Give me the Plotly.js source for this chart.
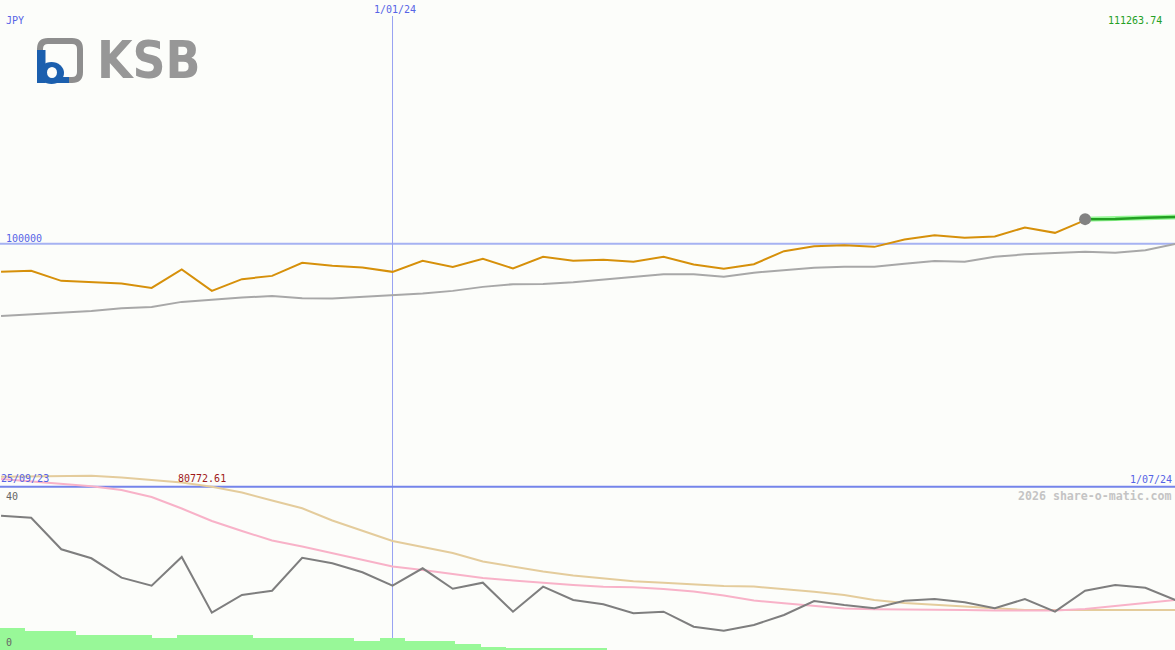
<!DOCTYPE html>
<html>
<head>
<meta charset="utf-8">
<script src="https://cdn.plot.ly/plotly-3.0.1.min.js"></script>
<style>html,body{margin:0;padding:0;background:#fcfdfa;}#chart{width:1175px;height:650px;}</style>
</head>
<body>
<div id="chart"></div>
<script>
// ---- data ----
const currency = 'JPY';
const dateLabels = ['25/09/23', '1/01/24', '1/07/24'];
const newYearWeek = 13;
const maxLabel = '111263.74';
const minLabel = '80772.61';
const refLevel = 100000;
const indicatorLabels = ['40', '0'];
const credit = '2026 share-o-matic.com';

// weekly closing price (JPY)
const price = [97771, 97850, 97059, 96980, 96853, 96506, 97960, 96268, 97193, 97454,
  98482, 98245, 98118, 97771, 98640, 98166, 98798, 98039, 98956, 98640,
  98735, 98561, 98956, 98356, 98008, 98379, 99407, 99802, 99881, 99747,
  100332, 100672, 100459, 100569, 101281, 100854, 101858, 101992];
// moving average of price
const priceMA = [94292, 94410, 94545, 94687, 94901, 95003, 95399, 95589, 95747, 95857,
  95691, 95660, 95794, 95905, 96063, 96268, 96585, 96798, 96814, 96956,
  97154, 97351, 97589, 97589, 97391, 97707, 97905, 98103, 98166, 98166,
  98403, 98632, 98561, 98972, 99154, 99273, 99352, 99273, 99486, 99984];
// latest price segment
const latestWeeks = [36, 37, 38, 39];
const latest = [101930, 101950, 102040, 102110];
const lastPoint = 101937;

// lower panel indicator
const indicator = [34.88, 34.36, 26.16, 23.82, 18.78, 16.70, 24.16, 9.69, 14.29, 15.40,
  23.97, 22.52, 20.18, 16.70, 21.22, 15.92, 17.48, 9.95, 16.44, 12.99,
  11.87, 9.53, 9.95, 6.05, 5.01, 6.49, 9.09, 12.73, 11.69, 10.83,
  12.81, 13.25, 12.39, 10.83, 13.25, 9.95, 15.40, 16.88, 16.18, 12.99];
const indicatorFast = [44.42, 43.77, 43.25, 42.55, 41.56, 39.74, 36.75, 33.51, 30.91, 28.44,
  26.88, 25.19, 23.51, 21.69, 20.78, 19.74, 18.70, 18.05, 17.40, 16.88,
  16.44, 16.31, 15.84, 15.19, 14.16, 12.86, 12.13, 11.43, 10.78, 10.57,
  10.57, 10.57, 10.39, 10.26, 10.21, 10.26, 10.65, 11.43, 12.21, 12.99];
const indicatorSlow = [45.01, 45.14, 45.30, 45.25, 44.78, 44.16, 43.51, 42.39, 40.91, 38.83,
  36.81, 33.64, 30.91, 28.31, 26.75, 25.19, 22.99, 21.69, 20.39, 19.35,
  18.57, 17.84, 17.45, 17.01, 16.62, 16.49, 15.84, 15.12, 14.29, 12.99,
  12.21, 11.69, 11.30, 10.86, 10.39, 10.39, 10.39, 10.31, 10.21, 10.39];
// volume bars
const volume = [220, 190, 190, 150, 150, 150, 120, 150, 150, 150, 120, 120,
  120, 120, 90, 120, 90, 90, 60, 30, 20, 20, 20, 20];

// ---- helpers for layout positioning (pixels -> paper) ----
const W = 1175, H = 650;
const X = px => px / W;
const Y = py => 1 - py / H;
const idx = arr => arr.map((_, i) => i);

const mono = 'DejaVu Sans Mono, Liberation Mono, monospace';
const blue = '#5664e6';

const traces = [
  {type: 'bar', x: idx(volume), y: volume, xaxis: 'x2', yaxis: 'y3', width: 1,
   marker: {color: '#98f898', line: {width: 0}}, hoverinfo: 'skip'},
  {type: 'scatter', mode: 'lines', x: idx(indicatorSlow), y: indicatorSlow, xaxis: 'x', yaxis: 'y2',
   line: {color: '#e4cc9c', width: 2}, cliponaxis: false},
  {type: 'scatter', mode: 'lines', x: idx(indicatorFast), y: indicatorFast, xaxis: 'x', yaxis: 'y2',
   line: {color: '#f8b2c8', width: 2}, cliponaxis: false},
  {type: 'scatter', mode: 'lines', x: idx(indicator), y: indicator, xaxis: 'x', yaxis: 'y2',
   line: {color: '#7e7e7e', width: 2}},
  {type: 'scatter', mode: 'lines', x: idx(priceMA), y: priceMA, xaxis: 'x', yaxis: 'y',
   line: {color: '#a8a8a8', width: 2}},
  {type: 'scatter', mode: 'lines', x: idx(price), y: price, xaxis: 'x', yaxis: 'y',
   line: {color: '#d6900a', width: 2}},
  {type: 'scatter', mode: 'lines', x: latestWeeks, y: latest, xaxis: 'x', yaxis: 'y',
   line: {color: '#98f898', width: 5}},
  {type: 'scatter', mode: 'lines', x: latestWeeks, y: latest, xaxis: 'x', yaxis: 'y',
   line: {color: '#22a022', width: 2.5}},
  {type: 'scatter', mode: 'markers', x: [36], y: [lastPoint], xaxis: 'x', yaxis: 'y',
   marker: {color: '#828282', size: 12, line: {width: 0}}}
];

function roundRectPath(x0, y0, x1, y1, r) {
  const p = (x, y) => X(x) + ',' + Y(y);
  return 'M' + p(x0 + r, y0) + ' L' + p(x1 - r, y0) + ' Q' + p(x1, y0) + ' ' + p(x1, y0 + r) +
    ' L' + p(x1, y1 - r) + ' Q' + p(x1, y1) + ' ' + p(x1 - r, y1) +
    ' L' + p(x0 + r, y1) + ' Q' + p(x0, y1) + ' ' + p(x0, y1 - r) +
    ' L' + p(x0, y0 + r) + ' Q' + p(x0, y0) + ' ' + p(x0 + r, y0) + ' Z';
}

const shapes = [
  // reference level line
  {type: 'line', xref: 'paper', yref: 'y', x0: 0, x1: 1, y0: refLevel, y1: refLevel,
   line: {color: '#a6b2f2', width: 2}, layer: 'below'},
  // 1 Jan vertical
  {type: 'line', xref: 'x', yref: 'paper', x0: newYearWeek, x1: newYearWeek, y0: 0, y1: Y(16),
   line: {color: '#98a2f2', width: 1}, layer: 'below'},
  // panel separator
  {type: 'line', xref: 'paper', yref: 'paper', x0: 0, x1: 1, y0: Y(486.7), y1: Y(486.7),
   line: {color: '#7484ea', width: 2}, layer: 'below'},
  // logo: grey rounded square
  {type: 'path', xref: 'paper', yref: 'paper', path: roundRectPath(40, 41, 80, 80, 8),
   line: {color: '#8e8e8e', width: 6}, fillcolor: 'rgba(0,0,0,0)'},
  // logo: blue b
  {type: 'rect', xref: 'paper', yref: 'paper', x0: X(37), x1: X(45.5), y0: Y(83), y1: Y(50),
   fillcolor: '#1b5fae', line: {width: 0}},
  {type: 'circle', xref: 'paper', yref: 'paper', x0: X(39), x1: X(64), y0: Y(84), y1: Y(62),
   fillcolor: '#1b5fae', line: {width: 0}},
  {type: 'rect', xref: 'paper', yref: 'paper', x0: X(51), x1: X(69), y0: Y(83), y1: Y(77),
   fillcolor: '#1b5fae', line: {width: 0}},
  {type: 'circle', xref: 'paper', yref: 'paper', x0: X(47), x1: X(57), y0: Y(78), y1: Y(67),
   fillcolor: '#fcfdfa', line: {width: 0}}
];

const ann = (text, x, y, xanchor, color, size, extra) => Object.assign({
  text: text, xref: 'paper', yref: 'paper', x: X(x), y: Y(y), xanchor: xanchor, yanchor: 'middle',
  showarrow: false, font: {family: mono, size: size || 10, color: color}, borderpad: 0
}, extra || {});

const annotations = [
  ann(currency, 5, 21, 'left', blue),
  ann(dateLabels[1], 395, 10, 'center', blue),
  ann(maxLabel, 1163, 21, 'right', '#24a024'),
  ann(String(refLevel), 5, 238, 'left', blue),
  ann(dateLabels[0], 0, 478, 'left', blue),
  ann(minLabel, 177, 478, 'left', '#a01818'),
  ann(dateLabels[2], 1173, 479, 'right', blue),
  ann(credit, 1173, 496, 'right', '#c4c4c4', 11.6, {font: {family: mono, size: 11.6, color: '#c4c4c4', weight: 'bold'}}),
  ann(indicatorLabels[0], 5, 496, 'left', '#666666'),
  ann(indicatorLabels[1], 5, 642, 'left', '#666666'),
  ann('KSB', 96, 61, 'left', '#8c8c8c', 51,
      {font: {family: 'Liberation Sans Narrow, DejaVu Sans Condensed, Arial Narrow, sans-serif', size: 51, color: '#979797', weight: 'bold'}})
];

const hidden = {visible: false, showgrid: false, zeroline: false, fixedrange: true};
const layout = {
  width: W, height: H,
  margin: {l: 0, r: 0, t: 0, b: 0, pad: 0},
  paper_bgcolor: '#fcfdfa', plot_bgcolor: 'rgba(0,0,0,0)',
  showlegend: false,
  xaxis: Object.assign({}, hidden, {domain: [0, 1], range: [-0.035, 38.985], anchor: 'y'}),
  xaxis2: Object.assign({}, hidden, {domain: [0, 1], range: [-0.5, 45.94], overlaying: 'x', anchor: 'y3'}),
  yaxis: Object.assign({}, hidden, {domain: [Y(487), 1], range: [80772.61, 119251], anchor: 'x'}),
  yaxis2: Object.assign({}, hidden, {domain: [0, Y(465)], range: [0, 48.05], anchor: 'x'}),
  yaxis3: Object.assign({}, hidden, {domain: [0, Y(465)], range: [0, 1850], overlaying: 'y2', anchor: 'x2'}),
  shapes: shapes,
  annotations: annotations,
  bargap: 0
};

Plotly.newPlot('chart', traces, layout, {staticPlot: true, displayModeBar: false});
</script>
</body>
</html>
